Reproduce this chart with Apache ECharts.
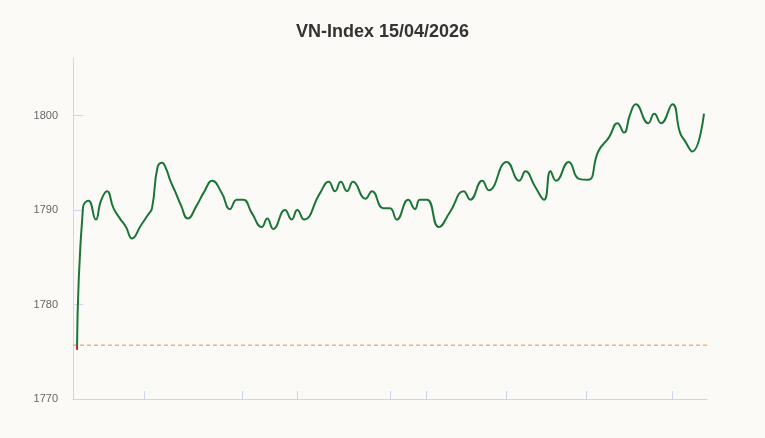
<!DOCTYPE html>
<html>
<head>
<meta charset="utf-8">
<script src="https://cdn.jsdelivr.net/npm/echarts@6/dist/echarts.min.js"></script>
<style>
html,body{margin:0;padding:0;background:#fbfaf7;}
#c{width:765px;height:438px;}
</style>
</head>
<body>
<div id="c"></div>
<script>
// trading time (minutes from open, continuous-trading scale) and index values
const times = [0,2.4,4.6,7.5,9.6,12,14.6,17.2,19.6,22,25.6,28.4,30,32.2,34,35.6,37.2,39.2,41.6,44.3,
  47.9,50.8,54.1,57.9,61.2,63.9,66.5,69.9,73.9,76.1,78.5,83.2,85.9,88.1,90.8,97.2,100.7,103.2,105.5,108,110.4,
  115.4,118,122.5,125.2,127.9,132.5,135.2,137.2,140,144.7,149.2,154.7,157.3,162.1,164.7,171.9,176.9,179.4,
  183.2,186.8,189.4,191.6,196.7,200.8,204.5,208.5,212.8,216.2,218.8,221.2,223.5,228.5,230.9,233.6,238.2,
  241.2,243.2,246.1,250.8];
const values = [1775.2,1790.3,1791,1789,1791,1792,1790.2,1789.1,1788.2,1787,1788.4,1789.5,1790.2,1794.5,1795,1794.4,1793.2,1792,1790.5,1789.1,
  1790.5,1791.9,1793.1,1791.8,1790.1,1791.1,1791.1,1789.7,1788.2,1789.1,1788,1790,1789,1790,1789,1791.8,1793,1792,1793,1792,1793,
  1791.2,1792,1790.2,1790.2,1789,1791.1,1790.1,1791.1,1791.1,1788.2,1789.8,1792,1791.1,1793.1,1792.1,1795.1,1793.1,1794.1,
  1792.5,1791.1,1794.1,1793.1,1795.1,1793.3,1793.2,1796.2,1797.7,1799.2,1798.2,1800.1,1801.2,1799.2,1800.2,1799.2,1801.2,
  1798.2,1797.3,1796.2,1800.2];
const referenceValue = 1775.7;
const xMin = -1.6, xMax = 252;
const xTicks = [27,66.2,88.2,125.2,139.6,171.6,203.6,238];
const yTicks = [1770,1780,1790,1800];
const title = 'VN-Index 15/04/2026';

const seriesData = times.map((t,i)=>[t, values[i]]);
const refData = [[xMin, referenceValue],[xMax, referenceValue]];
const chart = echarts.init(document.getElementById('c'), null, {renderer:'canvas'});
chart.setOption({
  backgroundColor:'#fbfaf7',
  animation:false,
  title:{text:title,left:'center',top:18,textStyle:{fontFamily:'Liberation Sans, Arial, sans-serif',fontSize:18,fontWeight:'bold',color:'#333333'}},
  grid:{left:73,right:58,top:58,bottom:39,containLabel:false},
  xAxis:{type:'value',min:xMin,max:xMax,
    axisLine:{show:true,onZero:false,lineStyle:{color:'#ccd6eb',width:1}},
    axisTick:{show:true,inside:true,length:8,customValues:xTicks,lineStyle:{color:'#ccd6eb'}},
    axisLabel:{show:false},
    splitLine:{show:false}},
  yAxis:{type:'value',min:1770,max:1806.1,
    axisLine:{show:true,onZero:false,lineStyle:{color:'#ccd6eb',width:1}},
    axisTick:{show:true,inside:true,length:10,customValues:yTicks,lineStyle:{color:'#ccd6eb'}},
    axisLabel:{show:true,customValues:yTicks,margin:15,color:'#666666',fontSize:11,
      fontFamily:'Liberation Sans, Arial, sans-serif',formatter:function(v){return String(v);}},
    splitLine:{show:false}},
  visualMap:{show:false,type:'piecewise',dimension:1,seriesIndex:[1],
    pieces:[{gte:1700,lt:referenceValue,color:'#c62828'},{gte:referenceValue,lte:1900,color:'#1b7537'}]},
  series:[
    {type:'line',data:refData,symbol:'none',showSymbol:false,silent:true,z:2,
      lineStyle:{color:'#e8912e',type:[4,3],width:1},itemStyle:{color:'#e8912e'}},
    {type:'line',data:seriesData,smooth:0.5,showSymbol:false,symbol:'none',lineStyle:{width:2},z:3}
  ]
});
</script>
</body>
</html>
